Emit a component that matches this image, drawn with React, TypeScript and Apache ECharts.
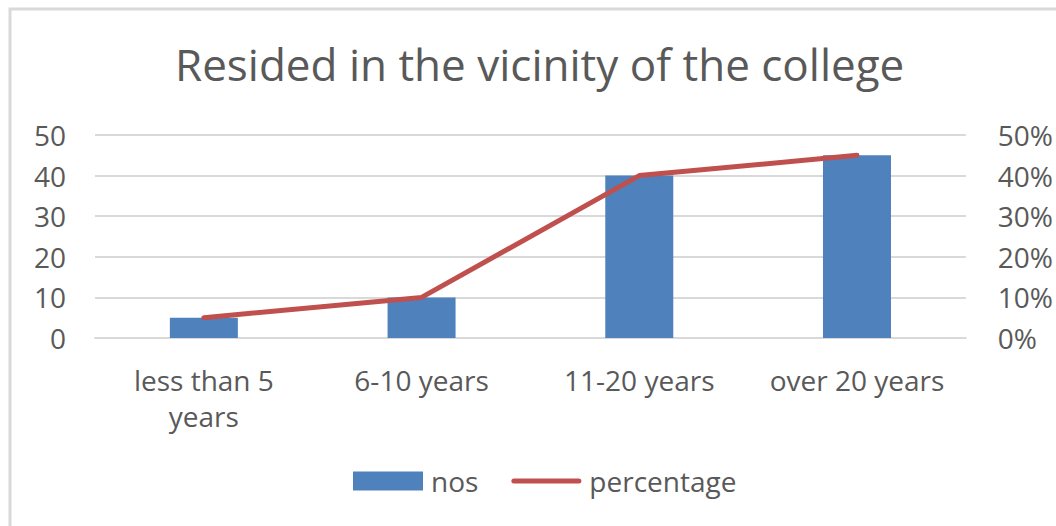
import React, { useEffect, useRef } from "react";
import * as echarts from "echarts";

const categories = ["less than 5\nyears", "6-10 years", "11-20 years", "over 20 years"];
const nosValues = [5, 10, 40, 45];
const percentageValues = [0.05, 0.1, 0.4, 0.45];
const titleText = "Resided in the vicinity of the college";

const FONT = "'Open Sans', sans-serif";
const TXT = "#595959";

export default function App() {
  const ref = useRef<HTMLDivElement>(null);
  useEffect(() => {
    if (!ref.current) return;
    const chart = echarts.init(ref.current, undefined, { renderer: "svg" });
    chart.setOption({
      animation: false,
      backgroundColor: "#ffffff",
      textStyle: { fontFamily: FONT },
      graphic: [
        {
          type: "rect",
          shape: { x: 10, y: 9, width: 1200, height: 700 },
          style: { fill: "none", stroke: "#D9D9D9", lineWidth: 3 },
          silent: true,
        },
      ],
      title: {
        text: titleText,
        left: 170,
        top: 37,
        textStyle: { fontFamily: FONT, fontSize: 44, fontWeight: "normal", color: TXT },
      },
      legend: {
        bottom: 26,
        left: 348,
        itemWidth: 70,
        itemHeight: 19,
        itemGap: 33,
        textStyle: { fontFamily: FONT, fontSize: 28, color: TXT, padding: [0, 0, 0, 3] },
        data: [
          { name: "nos", icon: "rect" },
          {
            name: "percentage",
            icon: "path://M2.5,0 L67.5,0 A2.5,2.5 0 0 1 67.5,5 L2.5,5 A2.5,2.5 0 0 1 2.5,0 Z",
          },
        ],
      },
      grid: { left: 95, right: 90, top: 135, bottom: 188, containLabel: false },
      xAxis: {
        type: "category",
        data: categories,
        axisLine: { lineStyle: { color: "#D9D9D9", width: 2 } },
        axisTick: { show: false },
        axisLabel: { fontFamily: FONT, fontSize: 28, color: TXT, margin: 24, lineHeight: 36, interval: 0 },
      },
      yAxis: [
        {
          type: "value",
          min: 0,
          max: 50,
          interval: 10,
          axisLine: { show: false },
          axisTick: { show: false },
          splitLine: { lineStyle: { color: "#D9D9D9", width: 2 } },
          axisLabel: { fontFamily: FONT, fontSize: 28, color: TXT, margin: 29 },
        },
        {
          type: "value",
          min: 0,
          max: 0.5,
          interval: 0.1,
          axisLine: { show: false },
          axisTick: { show: false },
          splitLine: { show: false },
          axisLabel: {
            fontFamily: FONT,
            fontSize: 28,
            color: TXT,
            margin: 32,
            formatter: (v: number) => Math.round(v * 100) + "%",
          },
        },
      ],
      series: [
        {
          name: "nos",
          type: "bar",
          data: nosValues,
          barWidth: 68,
          itemStyle: { color: "#4F81BD" },
          yAxisIndex: 0,
        },
        {
          name: "percentage",
          type: "line",
          data: percentageValues,
          yAxisIndex: 1,
          symbol: "none",
          lineStyle: { color: "#C0504D", width: 5, cap: "round" },
          itemStyle: { color: "#C0504D" },
        },
      ],
    });
    return () => chart.dispose();
  }, []);
  return (
    <div
      ref={ref}
      style={{ position: "fixed", left: 0, top: 0, width: 1056, height: 526 }}
    />
  );
}
